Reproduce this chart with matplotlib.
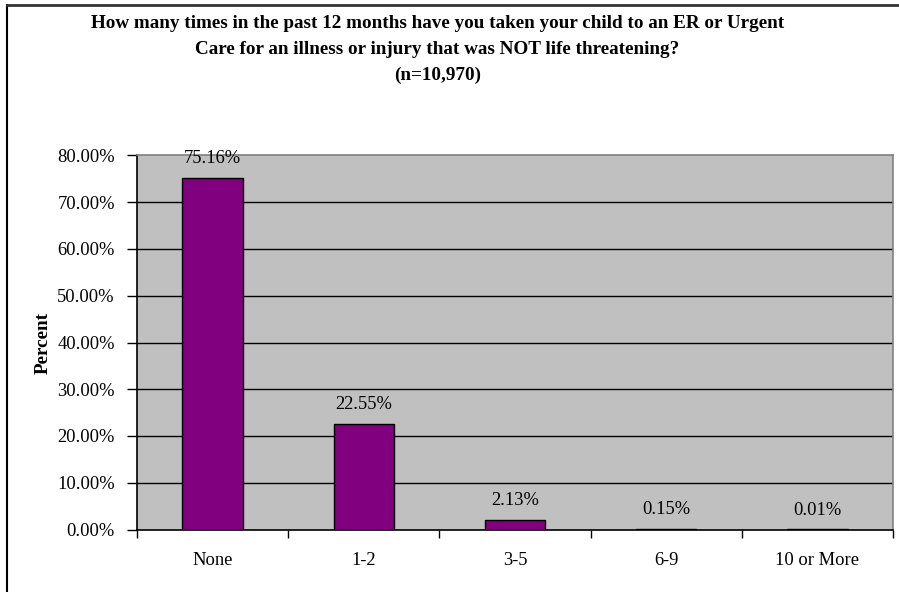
import matplotlib
matplotlib.use("Agg")
import matplotlib.pyplot as plt
from matplotlib.lines import Line2D

categories = ["None", "1-2", "3-5", "6-9", "10 or More"]
values = [75.16, 22.55, 2.13, 0.15, 0.01]
yticks = [0, 10, 20, 30, 40, 50, 60, 70, 80]
title_lines = [
    "How many times in the past 12 months have you taken your child to an ER or Urgent",
    "Care for an illness or injury that was NOT life threatening?",
    "(n=10,970)",
]

plt.rcParams['font.family'] = ['Liberation Serif', 'DejaVu Serif']

W, H = 899, 592
fig = plt.figure(figsize=(W / 100, H / 100), dpi=100)
fig.patch.set_facecolor("white")

ax = fig.add_axes([137 / W, 1 - 529.5 / H, (893 - 137) / W, (529.5 - 155.5) / H])
ax.set_facecolor("#C0C0C0")

x = list(range(len(categories)))
ax.bar(x, values, width=0.4, color="#800080", edgecolor="black", linewidth=1.0, zorder=3)

ax.set_xlim(-0.5, len(categories) - 0.5)
ax.set_ylim(0, 80)
ax.set_yticks(yticks)
ax.set_yticklabels([f"{v:.2f}%" for v in yticks], fontsize=13.3)
for v in yticks[1:-1]:
    ax.axhline(v, color="black", linewidth=1.0, zorder=1)

ax.set_xticks([i + 0.5 for i in range(-1, len(categories))])
ax.set_xticklabels([])
ax.set_xticks(x, minor=True)
ax.set_xticklabels(categories, minor=True, fontsize=13.3)
ax.tick_params(axis="x", which="major", direction="out", length=6, width=1, color="black")
ax.tick_params(axis="x", which="minor", length=0, pad=16)
ax.tick_params(axis="y", direction="out", length=7, width=1, pad=9)

for s in ["top", "right"]:
    ax.spines[s].set_color("#808080")
    ax.spines[s].set_linewidth(1.2)
for s in ["left", "bottom"]:
    ax.spines[s].set_color("black")
    ax.spines[s].set_linewidth(1.2)

for xi, v in zip(x, values):
    ax.annotate(f"{v:.2f}%", xy=(xi, v), xytext=(0, 14), textcoords="offset points",
                ha="center", va="center", fontsize=13.3, zorder=4)

ax.set_ylabel("Percent", fontsize=13.8, fontweight="bold", labelpad=4)

for i, line in enumerate(title_lines):
    fig.text(437.5 / W, 1 - (23 + 26 * i) / H, line, ha="center", va="center",
             fontsize=13.75, fontweight="bold")

# outer frame (left and top edges visible)
fig.add_artist(Line2D([7 / W, 7 / W], [0, 1 - 5 / H], transform=fig.transFigure, color="black", linewidth=1.5))
fig.add_artist(Line2D([7 / W, 1], [1 - 5 / H, 1 - 5 / H], transform=fig.transFigure, color="#333333", linewidth=2))

fig.savefig("out.png", dpi=100)
